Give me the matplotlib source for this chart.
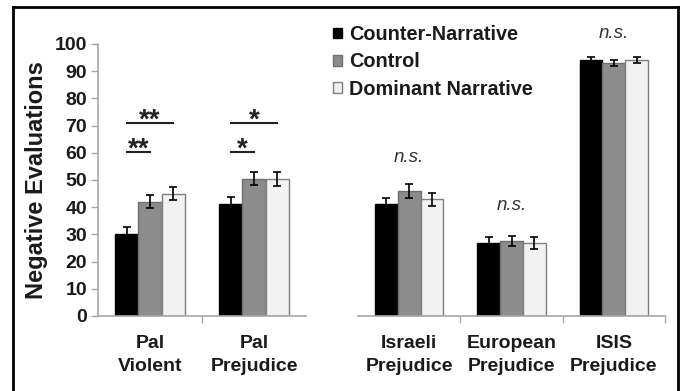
import matplotlib

matplotlib.use("Agg")
import matplotlib.pyplot as plt
import numpy as np
from matplotlib.lines import Line2D

plt.rcParams["font.family"] = ["Liberation Sans", "DejaVu Sans"]

# data
left_categories = ["Pal\nViolent", "Pal\nPrejudice"]
right_categories = ["Israeli\nPrejudice", "European\nPrejudice", "ISIS\nPrejudice"]
conditions = ["Counter-Narrative", "Control", "Dominant Narrative"]

counter_narrative = [30, 41, 41, 27, 94]
control = [42, 50.5, 46, 27.5, 93]
dominant_narrative = [45, 50.5, 43, 26.8, 94]

counter_err = [2.6, 2.6, 2.5, 2.0, 1.1]
control_err = [2.4, 2.5, 2.7, 1.8, 1.1]
dominant_err = [2.5, 2.6, 2.4, 2.3, 1.1]

# significance brackets in the left panel: (group, first bar, last bar, height, stars)
sig_brackets = [
    (0, 0, 2, 71, "**"),
    (0, 0, 1, 60.4, "**"),
    (1, 0, 2, 71, "*"),
    (1, 0, 1, 60.4, "*"),
]
# n.s. labels over the right panel groups
ns_heights = [56.6, 39, 102.2]

yticks = list(range(0, 101, 10))

face_colors = ["#000000", "#8c8c8c", "#f2f2f2"]
edge_colors = ["#000000", "#6f6f6f", "#7f7f7f"]
text_color = "#1a1a1a"
axis_color = "#a6a6a6"

W, H = 683, 391
fig = plt.figure(figsize=(W / 100, H / 100), dpi=100)
ax1 = fig.add_axes([98 / W, 1 - 316 / H, (306 - 98) / W, (316 - 44) / H])
ax2 = fig.add_axes([358 / W, 1 - 316 / H, (665 - 358) / W, (316 - 44) / H])

values = np.array([counter_narrative, control, dominant_narrative])
errors = np.array([counter_err, control_err, dominant_err])
bar_w = 0.223

panels = [
    (ax1, left_categories, slice(0, 2), [1]),
    (ax2, right_categories, slice(2, 5), [1, 2, 3]),
]
for ax, cats, sl, sep_ticks in panels:
    x = np.arange(len(cats)) + 0.5
    for i, name in enumerate(conditions):
        ax.bar(
            x + (i - 1) * bar_w,
            values[i, sl],
            bar_w,
            yerr=errors[i, sl],
            color=face_colors[i],
            edgecolor=edge_colors[i],
            linewidth=1,
            label=name,
            error_kw=dict(ecolor="black", elinewidth=1.2, capsize=3.2, capthick=1.2),
            zorder=2,
        )
    ax.set_xlim(0, len(cats))
    ax.set_ylim(0, 100)
    ax.set_xticks(x)
    ax.set_xticklabels(cats, fontsize=14, fontweight="bold", color=text_color,
                       linespacing=1.45)
    ax.tick_params(axis="x", which="major", length=0, pad=14)
    ax.set_xticks(sep_ticks, minor=True)
    ax.tick_params(axis="x", which="minor", length=5, color=axis_color, width=1)
    for s in ["top", "right"]:
        ax.spines[s].set_visible(False)
    ax.spines["bottom"].set_color(axis_color)
    ax.spines["bottom"].set_linewidth(1.2)
    ax.patch.set_alpha(0)

ax1.set_yticks(yticks)
ax1.set_yticklabels([str(t) for t in yticks], fontsize=14, fontweight="bold", color=text_color)
ax1.tick_params(axis="y", length=5, color=axis_color, width=1, pad=3)
ax1.spines["left"].set_color(axis_color)
ax1.spines["left"].set_linewidth(1.2)

ax2.spines["left"].set_visible(False)
ax2.set_yticks([])

# significance lines and stars
for g, a, b, h, stars in sig_brackets:
    x0 = g + 0.5 + (a - 1) * bar_w
    x1 = g + 0.5 + (b - 1) * bar_w
    ax1.plot([x0, x1], [h, h], color="#222222", lw=1.5, clip_on=False)
    ax1.text((x0 + x1) / 2, h - 1.9, stars, ha="center", va="baseline",
             fontsize=20, fontweight="bold", color="#222222", clip_on=False)

for i, h in enumerate(ns_heights):
    ax2.text(i + 0.5, h, "n.s.", ha="center", va="baseline", fontsize=13.5,
             fontstyle="italic", color="#333333", clip_on=False)

fig.text(37 / W, 1 - 180 / H, "Negative Evaluations", rotation=90, ha="center",
         va="center", fontsize=17, fontweight="bold", color=text_color)

handles, labels = ax2.get_legend_handles_labels()
fig.legend(handles, labels, loc="upper left", bbox_to_anchor=(333 / W, 1 - 25 / H),
           frameon=False, borderpad=0, borderaxespad=0, handlelength=0.45,
           handleheight=0.45, handletextpad=0.35, labelspacing=0.42,
           prop=dict(size=14.3, weight="bold"), labelcolor=text_color)

# frame around the figure (left, top, right only)
for xs, ys in [([13, 13], [391, 7]), ([13, 678], [7, 7]), ([678, 678], [7, 391])]:
    fig.add_artist(Line2D([v / W for v in xs], [1 - v / H for v in ys],
                          color="black", lw=2, transform=fig.transFigure))

fig.savefig("out.png", dpi=100)
